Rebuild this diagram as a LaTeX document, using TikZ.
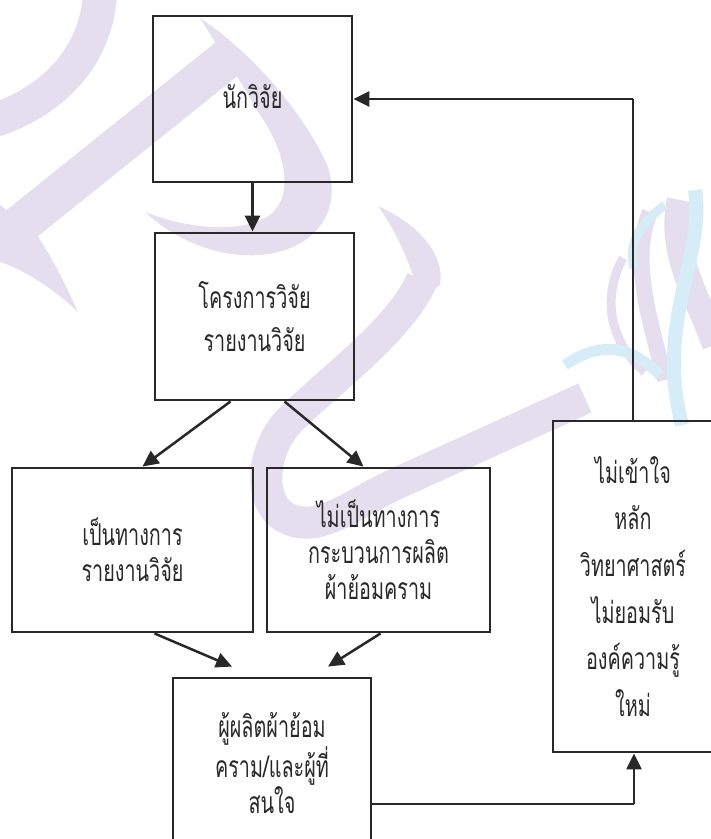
\documentclass[tikz,border=0pt]{standalone}
\usepackage{fontspec}
\newfontfamily\thai[Script=Thai,FakeStretch=0.66]{Loma}
\usetikzlibrary{arrows.meta}
\definecolor{ink}{RGB}{40,40,40}
\definecolor{lav}{RGB}{228,222,238}
\definecolor{sky}{RGB}{214,236,246}
\begin{document}
\begin{tikzpicture}[x=1pt,y=-1pt,
  box/.style={draw=ink,line width=2.9pt,inner sep=0pt,align=center,text=ink},
  arr/.style={draw=ink,line width=2.5pt,-{Triangle[length=16pt,width=15pt]}},
  thinline/.style={draw=ink,line width=1.1pt},
  wmark/.style={draw=lav,line width=#1},
  wmark/.default=30pt,
  wsky/.style={draw=sky,line width=#1},
  wsky/.default=12pt,
  wfill/.style={fill=lav,draw=none}
]
\useasboundingbox (0,0) rectangle (711,839);
\clip (0,0) rectangle (711,839);
% watermark
\draw[wmark=34pt] (100,-5) .. controls (96,55) and (55,100) .. (-5,120);
\fill[wfill] (200,18) .. controls (255,55) and (300,110) .. (325,160)
  .. controls (345,205) and (320,250) .. (260,255)
  .. controls (210,258) and (170,235) .. (145,212)
  .. controls (185,228) and (240,235) .. (270,215)
  .. controls (295,195) and (285,150) .. (260,115)
  .. controls (240,80) and (220,50) .. (200,18) -- cycle;
\draw[wmark=40pt] (228,58) -- (-5,245);
\fill[wfill] (0,205) -- (35,232) .. controls (55,262) and (68,290) .. (78,312) .. controls (55,290) and (25,270) .. (0,262) -- cycle;
\fill[wfill] (378,206) .. controls (420,225) and (445,255) .. (440,285) -- (420,300) .. controls (410,260) and (395,230) .. (378,206) -- cycle;
\draw[wmark=32pt] (422,280) .. controls (400,330) and (330,380) .. (290,420) .. controls (255,455) and (255,530) .. (315,522) .. controls (345,515) and (360,500) .. (400,482) -- (585,398);
\draw[wmark=9pt] (623,258) .. controls (600,300) and (612,345) .. (645,372);
\draw[wmark=16pt] (650,212) .. controls (630,260) and (650,320) .. (665,380);
\draw[wmark=26pt] (680,200) .. controls (668,255) and (700,300) .. (715,345);
\draw[wsky=14pt] (695,190) .. controls (705,260) and (655,320) .. (682,425);
\draw[wsky=11pt] (565,365) .. controls (595,345) and (625,340) .. (660,375);
\draw[wsky=9pt] (665,205) .. controls (638,225) and (628,245) .. (634,268);
% boxes
\node[box,minimum width=199pt,minimum height=166pt,font=\thai\fontsize{30}{36}\selectfont] (b1) at (252.5,99) {\raisebox{6pt}{นักวิจัย}};
\node[box,minimum width=199pt,minimum height=167pt,font=\thai\fontsize{30}{43}\selectfont] (b2) at (254.5,316.5) {โครงการวิจัย\\รายงานวิจัย};
\node[box,minimum width=241pt,minimum height=164pt,font=\thai\fontsize{30}{36}\selectfont] (b3) at (132.5,550) {เป็นทางการ\\รายงานวิจัย};
\node[box,minimum width=223pt,minimum height=164pt,font=\thai\fontsize{30}{36}\selectfont] (b4) at (378.5,550) {ไม่เป็นทางการ\\กระบวนการผลิต\\ผ้าย้อมคราม};
\node[box,minimum width=198pt,minimum height=170pt,font=\thai\fontsize{30}{36}\selectfont] (b5) at (272,763) {ผู้ผลิตผ้าย้อม\\คราม/และผู้ที่\\สนใจ};
\node[box,minimum width=160pt,minimum height=331pt,font=\thai\fontsize{30}{46.6}\selectfont] (b6) at (633,586.5) {ไม่เข้าใจ\\หลัก\\วิทยาศาสตร์\\ไม่ยอมรับ\\องค์ความรู้\\ใหม่};
% connectors
\draw[arr] (b1.south) -- (b1.south |- b2.north);
\draw[arr] ([xshift=-24pt]b2.south) -- ([xshift=10pt]b3.north);
\draw[arr] ([xshift=30pt]b2.south) -- ([xshift=-15pt]b4.north);
\draw[arr] ([xshift=22pt]b3.south) -- ([xshift=-40pt,yshift=10pt]b5.north);
\draw[arr] ([xshift=2pt]b4.south) -- ([xshift=56pt,yshift=10pt]b5.north);
\coordinate (c1) at (634,804);
\draw[thinline] (b5.east |- c1) -- (c1);
\draw[arr] (c1) -- (c1 |- b6.south);
\coordinate (c2) at (b6.north |- b1.east);
\draw[thinline] (b6.north) -- (c2);
\draw[arr] (c2) -- (b1.east);
\end{tikzpicture}
\end{document}
